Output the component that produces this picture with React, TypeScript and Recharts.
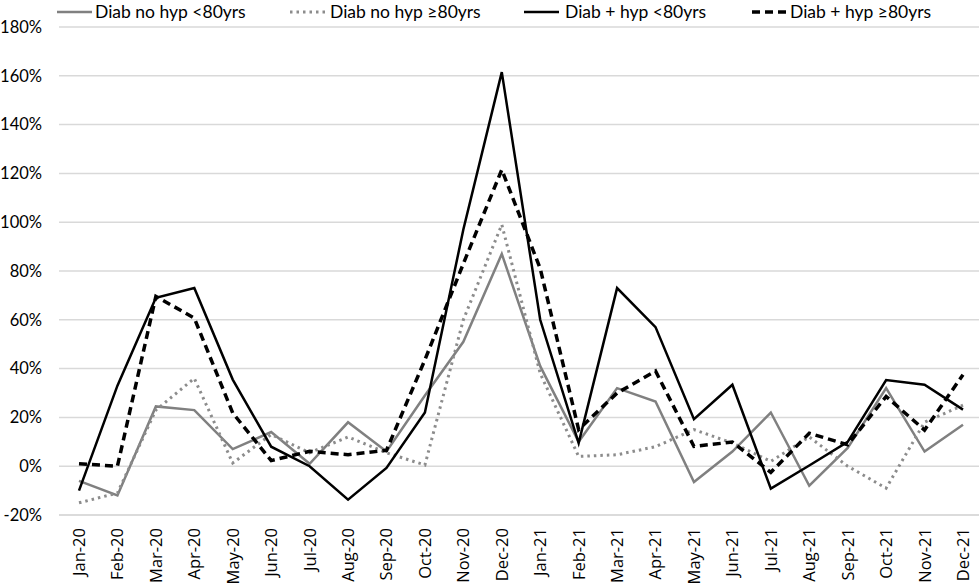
import React from 'react';
import { LineChart, Line, XAxis, YAxis, CartesianGrid, Legend } from 'recharts';

const months = ['Jan-20','Feb-20','Mar-20','Apr-20','May-20','Jun-20','Jul-20','Aug-20','Sep-20','Oct-20','Nov-20','Dec-20','Jan-21','Feb-21','Mar-21','Apr-21','May-21','Jun-21','Jul-21','Aug-21','Sep-21','Oct-21','Nov-21','Dec-21'];
const diabNoHypUnder80 = [-6,-12,24.5,23,7,14,1,18,6,29,51,87,41,10,32,26.5,-6.5,6,22,-8,7.5,32,6,17];
const diabNoHypOver80 = [-15,-11,23,36,1.3,13,5.5,12,5.5,0.5,60,99,38,4,4.7,8,15,9.5,2,12,0,-9,18,25];
const diabHypUnder80 = [-10,33,69,73,35.5,8,0,-13.7,-0.7,22,97,161.5,60,9.5,73,57,19.3,33.4,-9.2,0.3,10,35.3,33.4,23.2];
const diabHypOver80 = [1,0,69.6,60.7,21.8,2.3,6.1,4.7,6.5,43.6,83,121.5,81,15,30,39,8.1,9.9,-2.5,13.5,8.8,28.6,14.8,37.5];
const yTicks = [-20,0,20,40,60,80,100,120,140,160,180];

const seriesNames = ['Diab no hyp <80yrs','Diab no hyp \u226580yrs','Diab + hyp <80yrs','Diab + hyp \u226580yrs'];

const data = months.map((m, i) => ({
  month: m,
  a: diabNoHypUnder80[i],
  b: diabNoHypOver80[i],
  c: diabHypUnder80[i],
  d: diabHypOver80[i],
}));

const FONT = "'Lato', sans-serif";

const styles = [
  { key: 'a', stroke: '#808080', width: 2.5, dash: undefined as string | undefined },
  { key: 'b', stroke: '#8c8c8c', width: 3, dash: '2.5 4' },
  { key: 'c', stroke: '#000000', width: 2.5, dash: undefined },
  { key: 'd', stroke: '#000000', width: 3.5, dash: '8 5' },
];

const legendPos = [
  { line: 57, text: 95 },
  { line: 290, text: 330 },
  { line: 524, text: 565 },
  { line: 752, text: 790 },
];

const LegendContent = () => (
  <svg width={979} height={24} style={{ display: 'block' }}>
    {styles.map((s, i) => (
      <g key={s.key}>
        <line x1={legendPos[i].line} x2={legendPos[i].line + 35} y1={12} y2={12} stroke={s.stroke} strokeWidth={s.width} strokeDasharray={s.dash} />
        <text x={legendPos[i].text} y={12} dy="0.35em" fontFamily={FONT} fontSize={17.5} fill="#000">{seriesNames[i]}</text>
      </g>
    ))}
  </svg>
);

const XTick = (props: any) => {
  const { x, y, payload } = props;
  const ty = y + 5;
  return (
    <text x={x} y={ty} transform={`rotate(-90, ${x}, ${ty})`} textAnchor="end" dy="0.36em" fontFamily="'Open Sans', sans-serif" fontSize={16.5} fill="#000">
      {payload.value}
    </text>
  );
};

export default function App() {
  return (
    <div style={{ position: 'absolute', left: 0, top: 0, width: 979, height: 586, background: '#fff' }}>
      <LineChart width={979} height={586} data={data} margin={{ top: 3, right: 0, bottom: 0, left: 0 }}>
        <CartesianGrid vertical={false} stroke="#d9d9d9" strokeWidth={1.5} />
        <Legend verticalAlign="top" align="left" height={24} content={<LegendContent />} wrapperStyle={{ left: 0, top: 0, width: 979 }} />
        <XAxis dataKey="month" interval={0} height={71} padding={{ left: 20, right: 16 }} tickLine={false} axisLine={{ stroke: '#d9d9d9', strokeWidth: 1.5 }} tick={<XTick />} />
        <YAxis domain={[-20, 180]} ticks={yTicks} width={59} tickLine={false} axisLine={false} tickFormatter={(v: number) => `${v}%`} tick={{ fontFamily: FONT, fontSize: 16.5, fill: '#000', textAnchor: 'end', dx: -9 }} allowDataOverflow />
        {styles.map((s, i) => (
          <Line key={s.key} dataKey={s.key} name={seriesNames[i]} type="linear" stroke={s.stroke} strokeWidth={s.width} strokeDasharray={s.dash} dot={false} activeDot={false} isAnimationActive={false} />
        ))}
      </LineChart>
    </div>
  );
}
